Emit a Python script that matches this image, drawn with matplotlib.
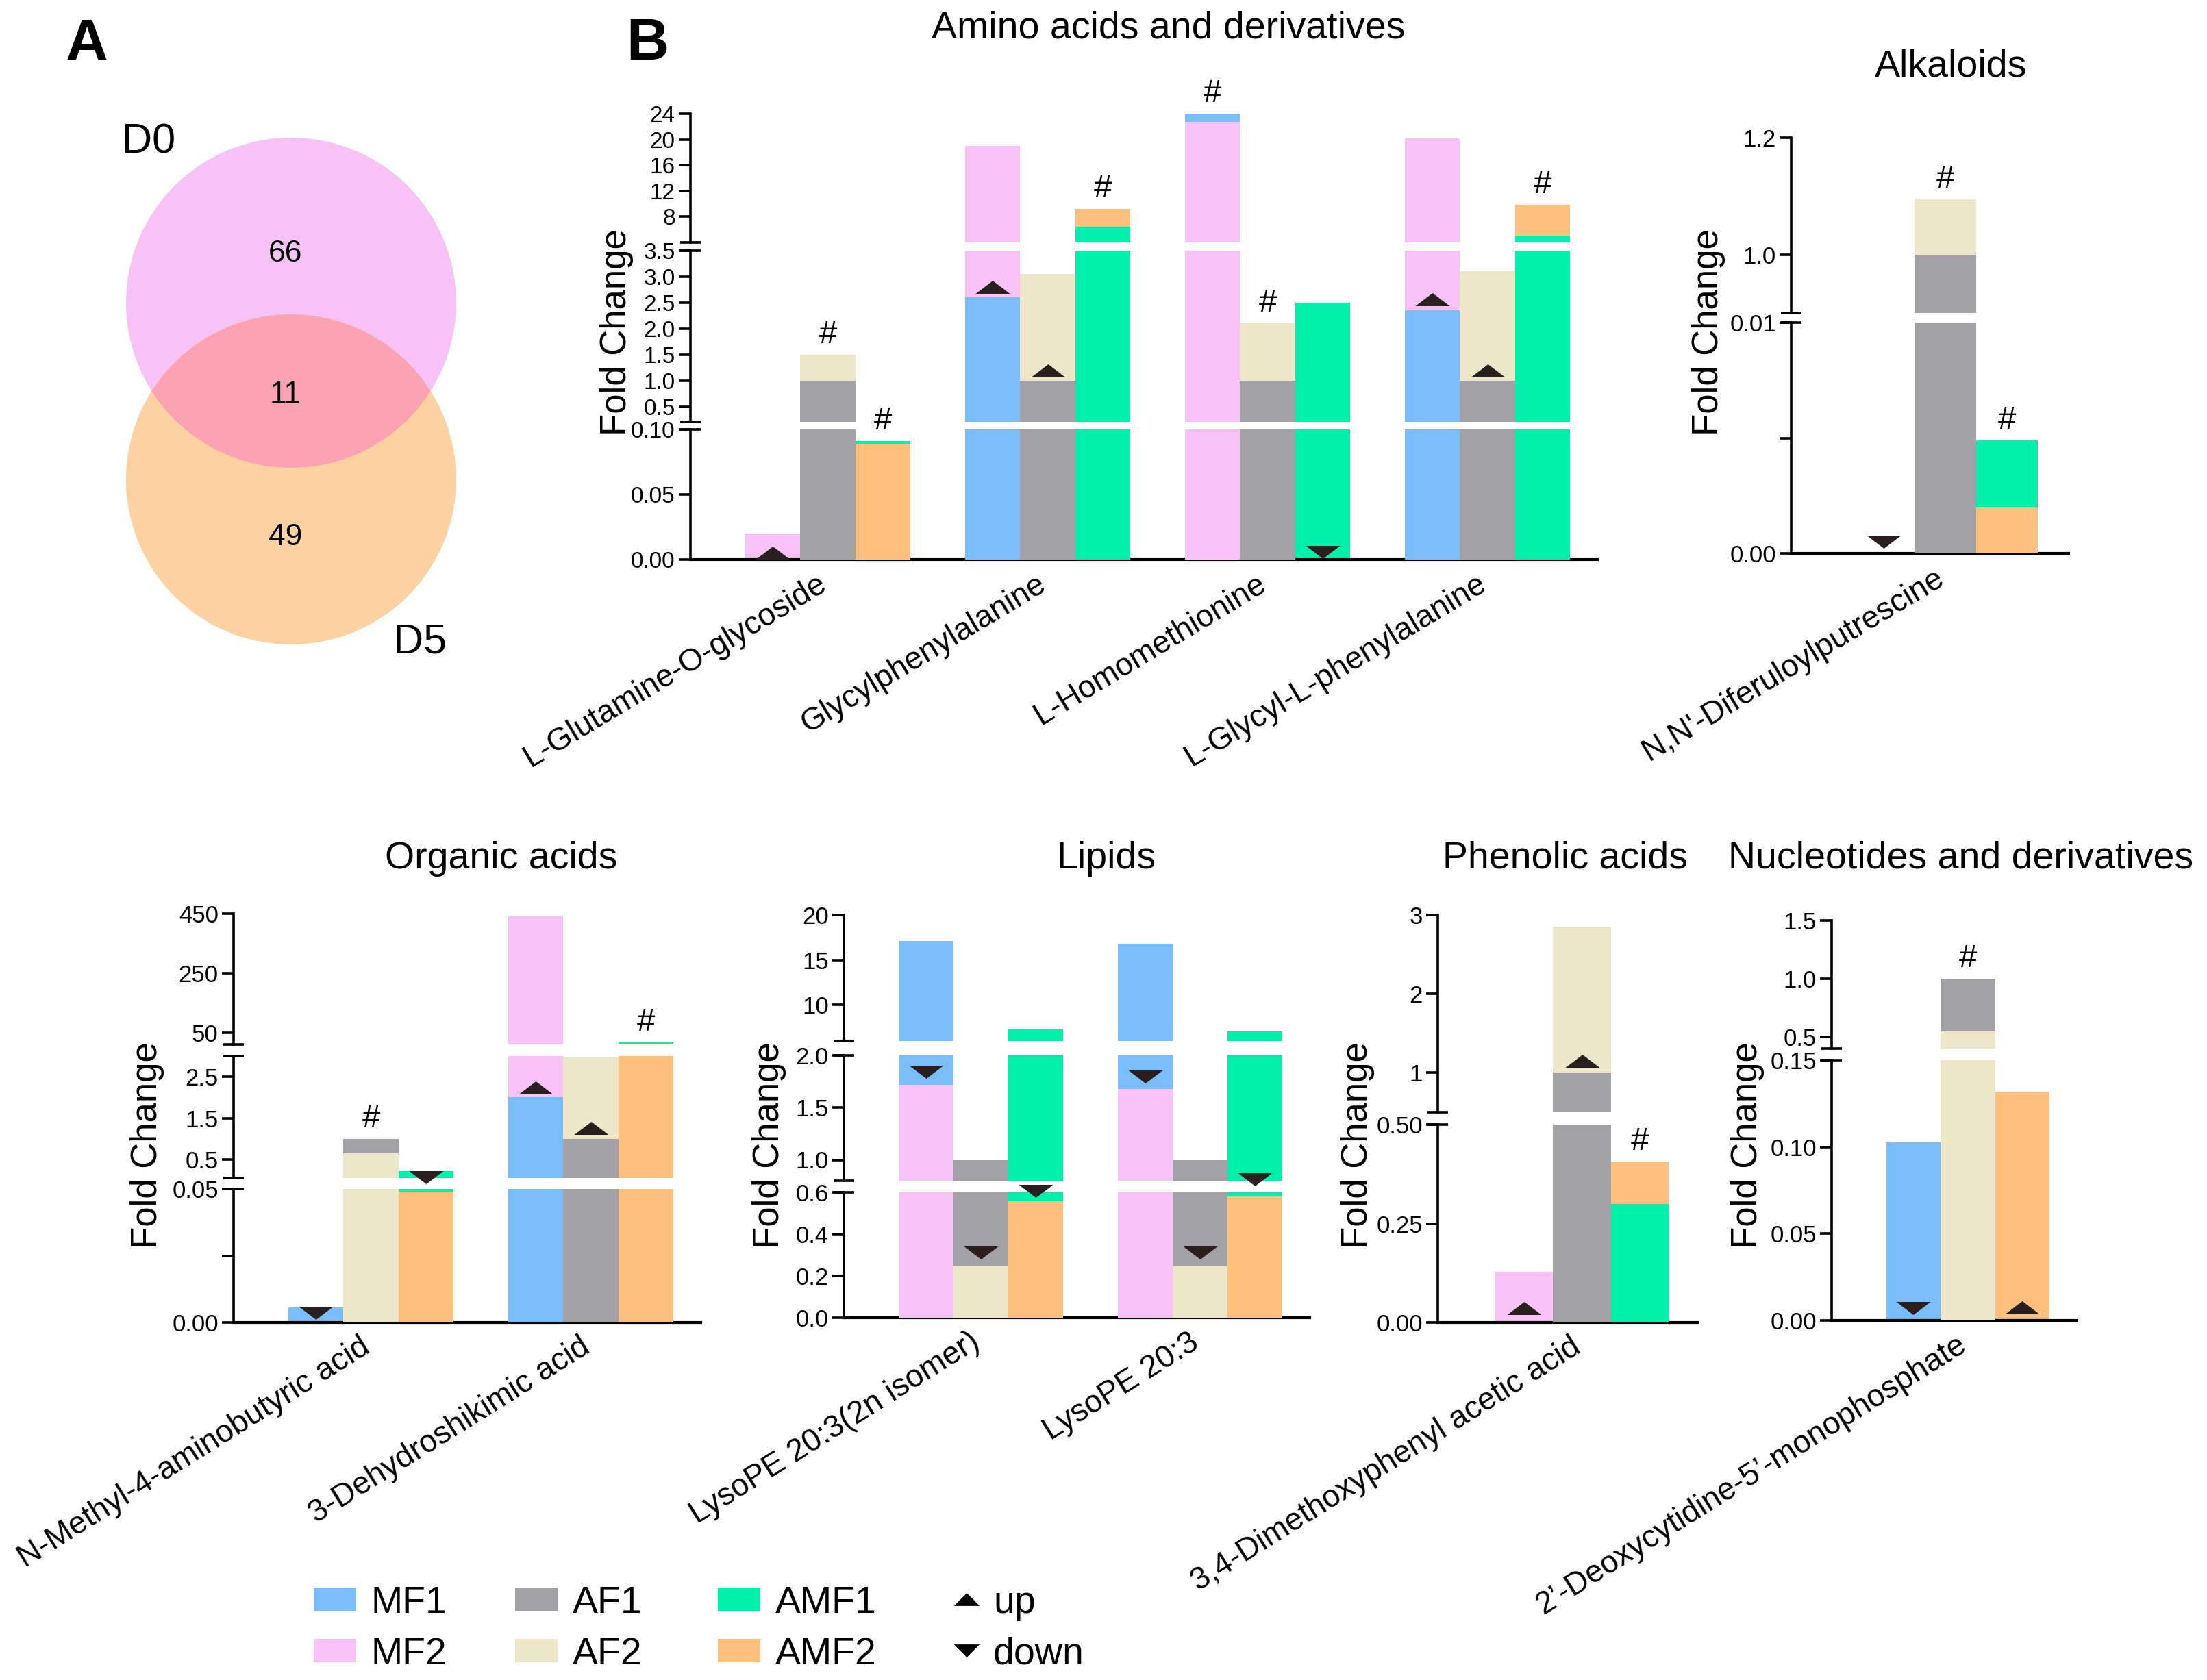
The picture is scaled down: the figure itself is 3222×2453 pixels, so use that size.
import matplotlib.pyplot as plt
import matplotlib.transforms as mtransforms
from matplotlib.patches import Circle, Rectangle

plt.rcParams["font.family"] = ["Liberation Sans", "DejaVu Sans"]

W, H = 3222, 2453

# colours of the six groups
colors = {
    "MF1": "#79BEFA",
    "MF2": "#F7C2F6",
    "AF1": "#A2A1A6",
    "AF2": "#EDE6C8",
    "AMF1": "#00EFAA",
    "AMF2": "#FDBF7E",
}
pairs = [("MF1", "MF2"), ("AF1", "AF2"), ("AMF1", "AMF2")]
tri_color = "#2A1E1E"

# ---- data ----
# Venn
venn_labels = ["D0", "D5"]
venn_counts = [66, 11, 49]

# Amino acids and derivatives
amino_names = ["L-Glutamine-O-glycoside", "Glycylphenylalanine",
               "L-Homomethionine", "L-Glycyl-L-phenylalanine"]
amino_mf1 = [0, 2.6, 24.0, 2.35]
amino_mf2 = [0.02, 19.0, 22.7, 20.2]
amino_af1 = [1.0, 1.0, 1.0, 1.0]
amino_af2 = [1.5, 3.05, 2.1, 3.1]
amino_amf1 = [0.091, 6.4, 2.5, 5.1]
amino_amf2 = [0.089, 9.2, 0, 9.9]
amino_hash = [(0, 1), (0, 2), (1, 2), (2, 0), (2, 1), (3, 2)]
amino_marks = [(0, 0, "up", 0.005), (1, 0, "up", 2.8), (1, 1, "up", 1.2),
               (2, 2, "down", 0.006), (3, 0, "up", 2.56), (3, 1, "up", 1.2)]
amino_segs = [(0, 0.10, [0, 0.05, 0.10], ["0.00", "0.05", "0.10"]),
              (0.21, 3.5, [0.5, 1.0, 1.5, 2.0, 2.5, 3.0, 3.5],
               ["0.5", "1.0", "1.5", "2.0", "2.5", "3.0", "3.5"]),
              (4, 24, [8, 12, 16, 20, 24], ["8", "12", "16", "20", "24"])]

# Alkaloids
alk_names = ["N,N'-Diferuloylputrescine"]
alk_mf1 = [0]
alk_mf2 = [0]
alk_af1 = [1.0]
alk_af2 = [1.095]
alk_amf1 = [0.0049]
alk_amf2 = [0.0020]
alk_hash = [(0, 1), (0, 2)]
alk_marks = [(0, 0, "down", 0.0005)]
alk_segs = [(0, 0.01, [0, 0.005, 0.01], ["0.00", "", "0.01"]),
            (0.9, 1.2, [1.0, 1.2], ["1.0", "1.2"])]

# Organic acids
org_names = ["N-Methyl-4-aminobutyric acid", "3-Dehydroshikimic acid"]
org_mf1 = [0.0057, 2.0]
org_mf2 = [0, 440]
org_af1 = [1.0, 1.0]
org_af2 = [0.64, 2.96]
org_amf1 = [0.22, 17]
org_amf2 = [0.049, 12]
org_hash = [(0, 1), (1, 2)]
org_marks = [(0, 0, "down", 0.0036), (0, 2, "down", 0.06),
             (1, 0, "up", 2.24), (1, 1, "up", 1.26)]
org_segs = [(0, 0.05, [0, 0.025, 0.05], ["0.00", "", "0.05"]),
            (0.05, 3.0, [0.5, 1.5, 2.5], ["0.5", "1.5", "2.5"]),
            (10, 450, [50, 250, 450], ["50", "250", "450"])]

# Lipids
lip_names = ["LysoPE 20:3(2n isomer)", "LysoPE 20:3"]
lip_mf1 = [17.1, 16.8]
lip_mf2 = [1.72, 1.68]
lip_af1 = [1.0, 1.0]
lip_af2 = [0.25, 0.25]
lip_amf1 = [7.3, 7.1]
lip_amf2 = [0.557, 0.58]
lip_hash = []
lip_marks = [(0, 0, "down", 1.84), (0, 1, "down", 0.31), (0, 2, "down", 0.607),
             (1, 0, "down", 1.80), (1, 1, "down", 0.31), (1, 2, "down", 0.81)]
lip_segs = [(0, 0.6, [0, 0.2, 0.4, 0.6], ["0.0", "0.2", "0.4", "0.6"]),
            (0.8, 2.0, [1.0, 1.5, 2.0], ["1.0", "1.5", "2.0"]),
            (6, 20, [10, 15, 20], ["10", "15", "20"])]

# Phenolic acids
phe_names = ["3,4-Dimethoxyphenyl acetic acid"]
phe_mf1 = [0]
phe_mf2 = [0.128]
phe_af1 = [1.0]
phe_af2 = [2.85]
phe_amf1 = [0.30]
phe_amf2 = [0.407]
phe_hash = [(0, 2)]
phe_marks = [(0, 0, "up", 0.036), (0, 1, "up", 1.15)]
phe_segs = [(0, 0.5, [0, 0.25, 0.5], ["0.00", "0.25", "0.50"]),
            (0.5, 3, [1, 2, 3], ["1", "2", "3"])]

# Nucleotides and derivatives
nuc_names = ["2\u2019-Deoxycytidine-5\u2019-monophosphate"]
nuc_mf1 = [0.1027]
nuc_mf2 = [0]
nuc_af1 = [1.0]
nuc_af2 = [0.55]
nuc_amf1 = [0]
nuc_amf2 = [0.132]
nuc_hash = [(0, 1)]
nuc_marks = [(0, 0, "down", 0.007), (0, 2, "up", 0.0075)]
nuc_segs = [(0, 0.15, [0, 0.05, 0.10, 0.15], ["0.00", "0.05", "0.10", "0.15"]),
            (0.4, 1.5, [0.5, 1.0, 1.5], ["0.5", "1.0", "1.5"])]

legend_names = ["MF1", "MF2", "AF1", "AF2", "AMF1", "AMF2"]

UP = [(-1, -0.38), (1, -0.38), (0, 0.38), (-1, -0.38)]
DOWN = [(-1, 0.38), (1, 0.38), (0, -0.38), (-1, 0.38)]
offsets = [-0.25, 0, 0.25]

fig = plt.figure(figsize=(W / 100, H / 100), dpi=100)

# full-figure axes in pixel coordinates for venn, legend and labels
ax0 = fig.add_axes([0, 0, 1, 1])
ax0.set_xlim(0, W)
ax0.set_ylim(H, 0)
ax0.axis("off")


def find_seg(segs, v):
    for k, s in enumerate(segs):
        if s[0] <= v <= s[1]:
            return k
    return min(range(len(segs)),
               key=lambda k: min(abs(v - segs[k][0]), abs(v - segs[k][1])))


def draw_panel(names, series, segs, seg_px, xr, hashes, marks, rot,
               tick_size=25, tick_family=None):
    n = len(names)
    axes = []
    for k, (seg, (ytop, ybot)) in enumerate(zip(segs, seg_px)):
        lo, hi, ticks, labels = seg
        ax = fig.add_axes([xr[0] / W, 1 - ybot / H, (xr[1] - xr[0]) / W, (ybot - ytop) / H])
        ax.set_facecolor("none")
        ax.set_xlim(-0.625, n - 0.5)
        ax.set_ylim(lo, hi)
        for i in range(n):
            for j, (s1, s2) in enumerate(pairs):
                order = sorted([(series[s1][i], s1), (series[s2][i], s2)], reverse=True)
                for z, (v, s) in enumerate(order):
                    if v > 0:
                        ax.bar(i + offsets[j], v, width=0.25, color=colors[s],
                               linewidth=0, zorder=2 + z)
        for sp in ["top", "right"]:
            ax.spines[sp].set_visible(False)
        ax.spines["left"].set_linewidth(2.6)
        ax.spines["bottom"].set_linewidth(3.0)
        ax.set_yticks(ticks)
        ax.set_yticklabels(labels)
        ax.tick_params(axis="y", length=12, width=2.6, labelsize=tick_size, pad=4)
        if tick_family:
            for lab in ax.get_yticklabels():
                lab.set_family(tick_family)
        if k == 0:
            ax.set_xticks(range(n))
            ax.set_xticklabels(names, rotation=rot, ha="right", va="top",
                               rotation_mode="anchor", fontsize=33)
            ax.tick_params(axis="x", length=0, pad=14)
            shift = mtransforms.ScaledTranslation(-0.17, 0.06, fig.dpi_scale_trans)
            for lab in ax.get_xticklabels():
                lab.set_transform(lab.get_transform() + shift)
        else:
            ax.spines["bottom"].set_visible(False)
            ax.set_xticks([])
        # break marks on the spine
        if k > 0:
            ax.plot([0], [0], marker="_", ms=22, mew=2.6, color="black",
                    transform=ax.transAxes, clip_on=False)
        if k < len(segs) - 1:
            ax.plot([0], [1], marker="_", ms=22, mew=2.6, color="black",
                    transform=ax.transAxes, clip_on=False)
        axes.append(ax)

    for i, j in hashes:
        v = max(series[pairs[j][0]][i], series[pairs[j][1]][i])
        ax = axes[find_seg(segs, v)]
        ax.annotate("#", xy=(i + offsets[j], v), xytext=(0, 5), textcoords="offset points",
                    ha="center", va="bottom", fontsize=34, annotation_clip=False, zorder=6)
    for i, j, d, v in marks:
        ax = axes[find_seg(segs, v)]
        ax.plot(i + offsets[j], v, marker=UP if d == "up" else DOWN, ms=36, mew=0,
                color=tri_color, clip_on=False, zorder=6)
    return axes


def series_of(mf1, mf2, af1, af2, amf1, amf2):
    return {"MF1": mf1, "MF2": mf2, "AF1": af1, "AF2": af2, "AMF1": amf1, "AMF2": amf2}


draw_panel(amino_names, series_of(amino_mf1, amino_mf2, amino_af1, amino_af2, amino_amf1, amino_amf2),
           amino_segs, [(627, 817), (366, 616), (166, 354)], (1008, 2332),
           amino_hash, amino_marks, 31, tick_size=24,
           tick_family=["Liberation Sans Narrow", "Liberation Sans"])
draw_panel(alk_names, series_of(alk_mf1, alk_mf2, alk_af1, alk_af2, alk_amf1, alk_amf2),
           alk_segs, [(471, 808), (201, 457)], (2615, 3020), alk_hash, alk_marks, 31)
draw_panel(org_names, series_of(org_mf1, org_mf2, org_af1, org_af2, org_amf1, org_amf2),
           org_segs, [(1736, 1931), (1542, 1720), (1334, 1525)], (341, 1023),
           org_hash, org_marks, 32)
draw_panel(lip_names, series_of(lip_mf1, lip_mf2, lip_af1, lip_af2, lip_amf1, lip_amf2),
           lip_segs, [(1741, 1924), (1541, 1724), (1336, 1520)], (1232, 1912),
           lip_hash, lip_marks, 32)
draw_panel(phe_names, series_of(phe_mf1, phe_mf2, phe_af1, phe_af2, phe_amf1, phe_amf2),
           phe_segs, [(1642, 1931), (1336, 1624)], (2099, 2478), phe_hash, phe_marks, 32)
draw_panel(nuc_names, series_of(nuc_mf1, nuc_mf2, nuc_af1, nuc_af2, nuc_amf1, nuc_amf2),
           nuc_segs, [(1548, 1928), (1344, 1531)], (2674, 3032), nuc_hash, nuc_marks, 32)

# titles and y labels
titles = [("Amino acids and derivatives", 1706, 41), ("Alkaloids", 2848, 97),
          ("Organic acids", 732, 1254), ("Lipids", 1615, 1254),
          ("Phenolic acids", 2285, 1254), ("Nucleotides and derivatives", 2863, 1254)]
for t, x, y in titles:
    ax0.text(x, y, t, ha="center", va="center", fontsize=40)
for x, y in [(900, 485), (2494, 485), (215, 1672), (1123, 1672), (1982, 1672), (2551, 1672)]:
    ax0.text(x, y, "Fold Change", rotation=90, ha="center", va="center", fontsize=38)

# panel letters
ax0.text(127, 66, "A", ha="center", va="center", fontsize=62, fontweight="bold")
ax0.text(945, 65, "B", ha="center", va="center", fontsize=62, fontweight="bold")

# Venn diagram
c_top = Circle((425, 442), 241, facecolor="#F7C3F6", edgecolor="none")
c_bot = Circle((425, 700), 241, facecolor="#FDD2A2", edgecolor="none")
ax0.add_patch(c_top)
ax0.add_patch(c_bot)
c_mid = Circle((425, 700), 241, facecolor="#FCA3B3", edgecolor="none")
ax0.add_patch(c_mid)
c_mid.set_clip_path(c_top)
ax0.text(217, 208, venn_labels[0], ha="center", va="center", fontsize=44)
ax0.text(613, 938, venn_labels[1], ha="center", va="center", fontsize=44)
for cnt, y in zip(venn_counts, [371, 577, 785]):
    ax0.text(417, y, str(cnt), ha="center", va="center", fontsize=32)

# legend
col_x = [458, 752, 1048]
row_y = [2335, 2410]
for k, name in enumerate(legend_names):
    cx = col_x[k // 2]
    ry = row_y[k % 2]
    ax0.add_patch(Rectangle((cx, ry - 17), 62, 34, facecolor=colors[name], edgecolor="none"))
    ax0.text(cx + 84, ry + 20, name, ha="left", va="baseline", fontsize=40)
LEG_UP = [(-1, -0.5), (1, -0.5), (0, 0.5), (-1, -0.5)]
LEG_DOWN = [(-1, 0.5), (1, 0.5), (0, -0.5), (-1, 0.5)]
ax0.plot(1411, row_y[0], marker=LEG_UP, ms=27, mew=0, color="black")
ax0.plot(1411, row_y[1], marker=LEG_DOWN, ms=27, mew=0, color="black")
ax0.text(1450, row_y[0] + 20, "up", ha="left", va="baseline", fontsize=40)
ax0.text(1450, row_y[1] + 20, "down", ha="left", va="baseline", fontsize=40)

fig.savefig("out.png", dpi=100)
